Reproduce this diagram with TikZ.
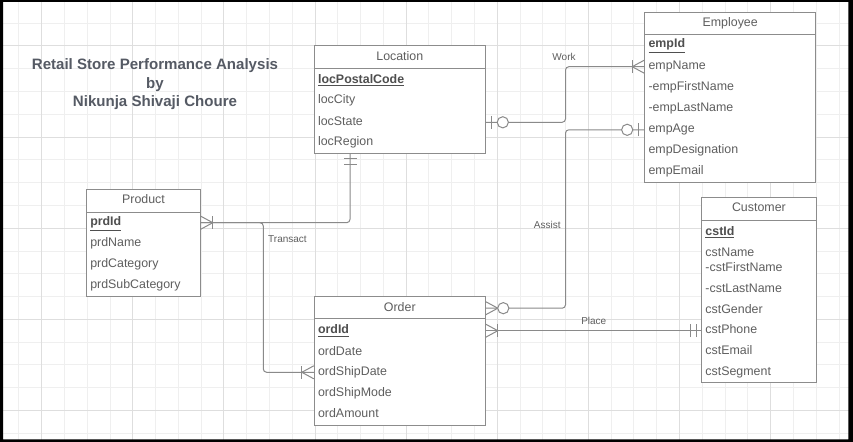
\documentclass[tikz,border=0pt]{standalone}
\usepackage{fontspec}
\setmainfont{Liberation Sans}
\usetikzlibrary{fit}
\definecolor{gridminor}{HTML}{EFEFEF}
\definecolor{gridmajor}{HTML}{DEDEDE}
\definecolor{edgec}{HTML}{8A8A8A}
\definecolor{boxc}{HTML}{8C8C8C}
\definecolor{txtc}{HTML}{5E5E5E}
\definecolor{pkc}{HTML}{4F4F4F}
\definecolor{titlec}{HTML}{555A64}
\begin{document}
\begin{tikzpicture}[x=0.75pt,y=-0.75pt,
  ebox/.style={draw=boxc, line width=0.75pt, fill=white, inner sep=0pt},
  boxline/.style={draw=boxc, line width=0.75pt},
  hdr/.style={text=txtc, font=\fontsize{9.3}{11}\selectfont, inner sep=0pt, text height=6.7pt, text depth=1.9pt},
  attr/.style={hdr, anchor=west},
  pk/.style={attr, text=pkc, font=\fontsize{9.3}{11}\selectfont\bfseries},
  conn/.style={draw=edgec, line width=0.75pt, rounded corners=2.5pt},
  mk/.style={draw=edgec, line width=0.75pt},
  lbl/.style={text=txtc, font=\fontsize{7.5}{9}\selectfont, inner sep=0pt, anchor=base},
  ttl/.style={text=titlec, font=\fontsize{11.3}{13.7}\selectfont\bfseries, inner sep=0pt, anchor=base},
  gmin/.style={draw=gridminor, line width=0.75pt},
  gmaj/.style={draw=gridmajor, line width=0.75pt},
  crowbar/.pic={\draw[mk] (0,-6.5) -- (12,0) -- (0,6.5); \draw[mk] (12,-6.5) -- (12,6.5);},
  crowcirc/.pic={\draw[mk] (0,-6.5) -- (12,0) -- (0,6.5); \draw[mk, fill=white] (17.5,0) circle[radius=4.2pt];},
  barcirc/.pic={\draw[mk] (6,-6.5) -- (6,6.5); \draw[mk, fill=white] (17,0) circle[radius=4.2pt];},
  twobar/.pic={\draw[mk] (5,-6.5) -- (5,6.5); \draw[mk] (11,-6.5) -- (11,6.5);}
]
\useasboundingbox (0,0) rectangle (853,442);
\fill[white] (0,0) rectangle (853,442);
% grid
\foreach \i in {0,...,36} \draw[gmin] ({18.92+22.78*\i},0) -- ({18.92+22.78*\i},442);
\foreach \j in {0,...,19} \draw[gmin] (0,{0.44+22.78*\j}) -- (853,{0.44+22.78*\j});
\foreach \i in {1,5,...,33} \draw[gmaj] ({18.92+22.78*\i},0) -- ({18.92+22.78*\i},442);
\foreach \j in {2,6,...,18} \draw[gmaj] (0,{0.44+22.78*\j}) -- (853,{0.44+22.78*\j});
% frame
\fill[black, even odd rule] (0,0) rectangle (853,442) (3,1.8) rectangle (848.3,439.3);

% title
\node[ttl] (t1) at (155,69.9) {Retail Store Performance Analysis};
\node[ttl] (t2) at (155,88.2) {by};
\node[ttl] (t3) at (155,106.6) {Nikunja Shivaji Choure};

% entity boxes
\node[ebox, fit={(314.3,46) (485.3,153.3)}] (loc) {};
\node[ebox, fit={(644.7,12.3) (815.7,182.3)}] (emp) {};
\node[ebox, fit={(701.7,197.3) (816,382.7)}] (cust) {};
\node[ebox, fit={(314.3,296.7) (485.3,425)}] (ord) {};
\node[ebox, fit={(86.7,189.3) (200.3,296.7)}] (prod) {};

% text rows
\node[hdr] (locH) at (399.8,57.5) {Location};
\node[pk] (locPK) at (317.8,80) {\underline{locPostalCode}};
\node[attr] (locCity) at (317.8,100.6) {locCity};
\node[attr] (locState) at (317.8,122.3) {locState};
\node[attr] (locRegion) at (317.8,142.2) {locRegion};

\node[hdr] (empH) at (730.2,23.3) {Employee};
\node[pk] (empPK) at (648.3,44.3) {\underline{empId}};
\node[attr] (empName) at (648.3,66.7) {empName};
\node[attr] (empFirst) at (648.3,87.1) {-empFirstName};
\node[attr] (empLast) at (648.3,108.3) {-empLastName};
\node[attr] (empAge) at (648.3,129.8) {empAge};
\node[attr] (empDesig) at (648.3,150.4) {empDesignation};
\node[attr] (empEmail) at (648.3,171.7) {empEmail};

\node[hdr] (custH) at (758.9,208.7) {Customer};
\node[pk] (custPK) at (705.2,232) {\underline{cstId}};
\node[attr] (custName) at (705.2,253.2) {cstName};
\node[attr] (custFirst) at (705.2,268.2) {-cstFirstName};
\node[attr] (custLast) at (705.2,289.1) {-cstLastName};
\node[attr] (custGender) at (705.2,310.1) {cstGender};
\node[attr] (custPhone) at (705.2,330.7) {cstPhone};
\node[attr] (custEmail) at (705.2,351.7) {cstEmail};
\node[attr] (custSeg) at (705.2,372.3) {cstSegment};

\node[hdr] (ordH) at (399.8,308.2) {Order};
\node[pk] (ordPK) at (317.8,330.7) {\underline{ordId}};
\node[attr] (ordDate) at (317.8,351.8) {ordDate};
\node[attr] (ordShip) at (317.8,372.3) {ordShipDate};
\node[attr] (ordMode) at (317.8,393.2) {ordShipMode};
\node[attr] (ordAmt) at (317.8,414.7) {ordAmount};

\node[hdr] (prodH) at (143.5,200.8) {Product};
\node[pk] (prodPK) at (90,222.7) {\underline{prdId}};
\node[attr] (prodName) at (90,243.7) {prdName};
\node[attr] (prodCat) at (90,264.3) {prdCategory};
\node[attr] (prodSub) at (90,285.3) {prdSubCategory};

% header separators
\draw[boxline] (loc.west |- 0,69) -- (loc.east |- 0,69);
\draw[boxline] (emp.west |- 0,34.3) -- (emp.east |- 0,34.3);
\draw[boxline] (cust.west |- 0,220) -- (cust.east |- 0,220);
\draw[boxline] (ord.west |- 0,318.3) -- (ord.east |- 0,318.3);
\draw[boxline] (prod.west |- 0,212.3) -- (prod.east |- 0,212.3);

% connector bend coordinates
\coordinate (wk) at (565.5,0);
\coordinate (tx1) at (350,0);
\coordinate (tx2) at (263.3,0);

% connectors
\draw[conn] (loc.east |- locState) -| (wk |- empName) -- (emp.west |- empName);
\draw[conn] (emp.west |- empAge) -| (wk |- ordH) -- (ord.east |- ordH);
\draw[conn] (ord.east |- ordPK) -- (cust.west |- ordPK);
\draw[conn] (tx1 |- loc.south) |- (prod.east |- prodPK);
\draw[conn] (prod.east |- prodPK) -| (tx2 |- ordShip) -- (ord.west |- ordShip);

% markers
\pic at (loc.east |- locState) {barcirc};
\pic[rotate=180] at (emp.west |- empName) {crowbar};
\pic[rotate=180] at (emp.west |- empAge) {barcirc};
\pic at (ord.east |- ordH) {crowcirc};
\pic at (ord.east |- ordPK) {crowbar};
\pic[rotate=180] at (cust.west |- ordPK) {twobar};
\pic[rotate=-90] at (tx1 |- loc.south) {twobar};
\pic at (prod.east |- prodPK) {crowbar};
\pic[rotate=180] at (ord.west |- ordShip) {crowbar};

% labels
\node[lbl] (lWork) at (564,60.3) {Work};
\node[lbl] (lAssist) at (547.3,228.6) {Assist};
\node[lbl] (lPlace) at (593.8,324.3) {Place};
\node[lbl] (lTransact) at (287.5,242.6) {Transact};
\end{tikzpicture}
\end{document}
